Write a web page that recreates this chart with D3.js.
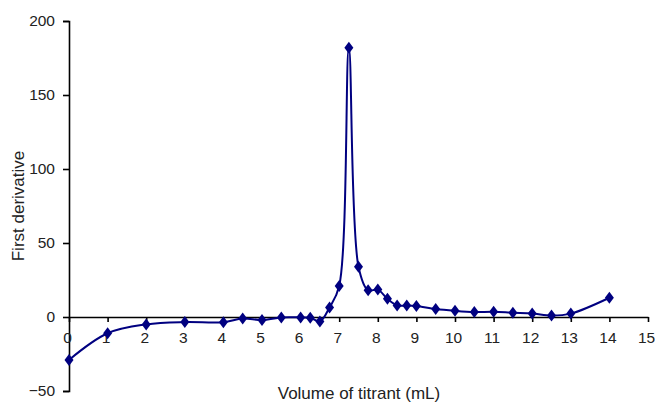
<!doctype html>
<html>
<head>
<meta charset="utf-8">
<title>First derivative</title>
<script src="https://cdn.jsdelivr.net/npm/d3@7"></script>
<style>
    body { margin: 0; background: #fff; }
    svg text { font-family: "Liberation Sans", Arial, sans-serif; fill: #222; }
</style>
</head>
<body>
<svg id="chart" width="655" height="403"></svg>
<script>
    // volume of titrant (mL) and first derivative
    var volume = [0, 1, 2, 3, 4, 4.5, 5, 5.5, 6, 6.25, 6.5, 6.75, 7, 7.25, 7.5, 7.75, 8, 8.25, 8.5, 8.75, 9,
                  9.5, 10, 10.5, 11, 11.5, 12, 12.5, 13, 14];
    var deriv = [-29, -11, -5, -3.4, -3.5, -1, -2, -0.3, -0.3, -0.5, -3, 6.5, 21, 182, 34, 18, 18.5, 12.3, 7.8, 7.8, 7.4,
                 5.4, 4.2, 3.4, 3.5, 2.9, 2.4, 1, 2.3, 13];
    var xTicks = d3.range(0, 16);
    var yTicks = [-50, 0, 50, 100, 150, 200];

    var svg = d3.select("#chart");
    var x = d3.scaleLinear().domain([0, 15]).range([69, 648]);
    var y = d3.scaleLinear().domain([-50, 200]).range([391, 21]);

    // y axis
    var yAxis = svg.append("g").attr("transform", "translate(" + x(0) + ",0)")
        .call(d3.axisLeft(y).tickValues(yTicks).tickSize(6).tickPadding(8)
            .tickFormat(function (d) { return d < 0 ? "\u2212" + Math.abs(d) : d; }));
    yAxis.select(".domain").attr("stroke", "#000").attr("stroke-width", 1.6);
    yAxis.selectAll(".tick line").attr("stroke", "#000").attr("stroke-width", 1.6);
    yAxis.selectAll("text").attr("font-size", 15.5).attr("fill", "#222")
        .attr("font-family", "Liberation Sans, Arial, sans-serif");

    // x axis sits on y = 0
    var xAxis = svg.append("g").attr("transform", "translate(0," + y(0) + ")")
        .call(d3.axisBottom(x).tickValues(xTicks).tickSize(5).tickPadding(10).tickSizeOuter(0));
    xAxis.select(".domain").attr("stroke", "#000").attr("stroke-width", 1.6);
    xAxis.selectAll(".tick line").attr("stroke", "#000").attr("stroke-width", 1.6);
    xAxis.selectAll("text").attr("font-size", 15.5).attr("fill", "#222").attr("dx", -2)
        .attr("font-family", "Liberation Sans, Arial, sans-serif");

    var pts = volume.map(function (v, i) { return [v, deriv[i]]; });

    var line = d3.line()
        .x(function (d) { return x(d[0]); })
        .y(function (d) { return y(d[1]); })
        .curve(d3.curveCatmullRom.alpha(0.5));

    svg.append("path").datum(pts)
        .attr("fill", "none").attr("stroke", "#000080").attr("stroke-width", 2)
        .attr("d", line);

    svg.append("g").selectAll("path.mk").data(pts).enter().append("path")
        .attr("class", "mk")
        .attr("transform", function (d) { return "translate(" + x(d[0]) + "," + y(d[1]) + ")"; })
        .attr("d", "M0,-6L4.5,0L0,6L-4.5,0Z")
        .attr("fill", "#000080");

    svg.append("text").attr("x", 359).attr("y", 399).attr("text-anchor", "middle")
        .attr("font-size", 17).text("Volume of titrant (mL)");

    svg.append("text").attr("transform", "translate(24,206) rotate(-90)")
        .attr("text-anchor", "middle").attr("font-size", 17).text("First derivative");
</script>
</body>
</html>
